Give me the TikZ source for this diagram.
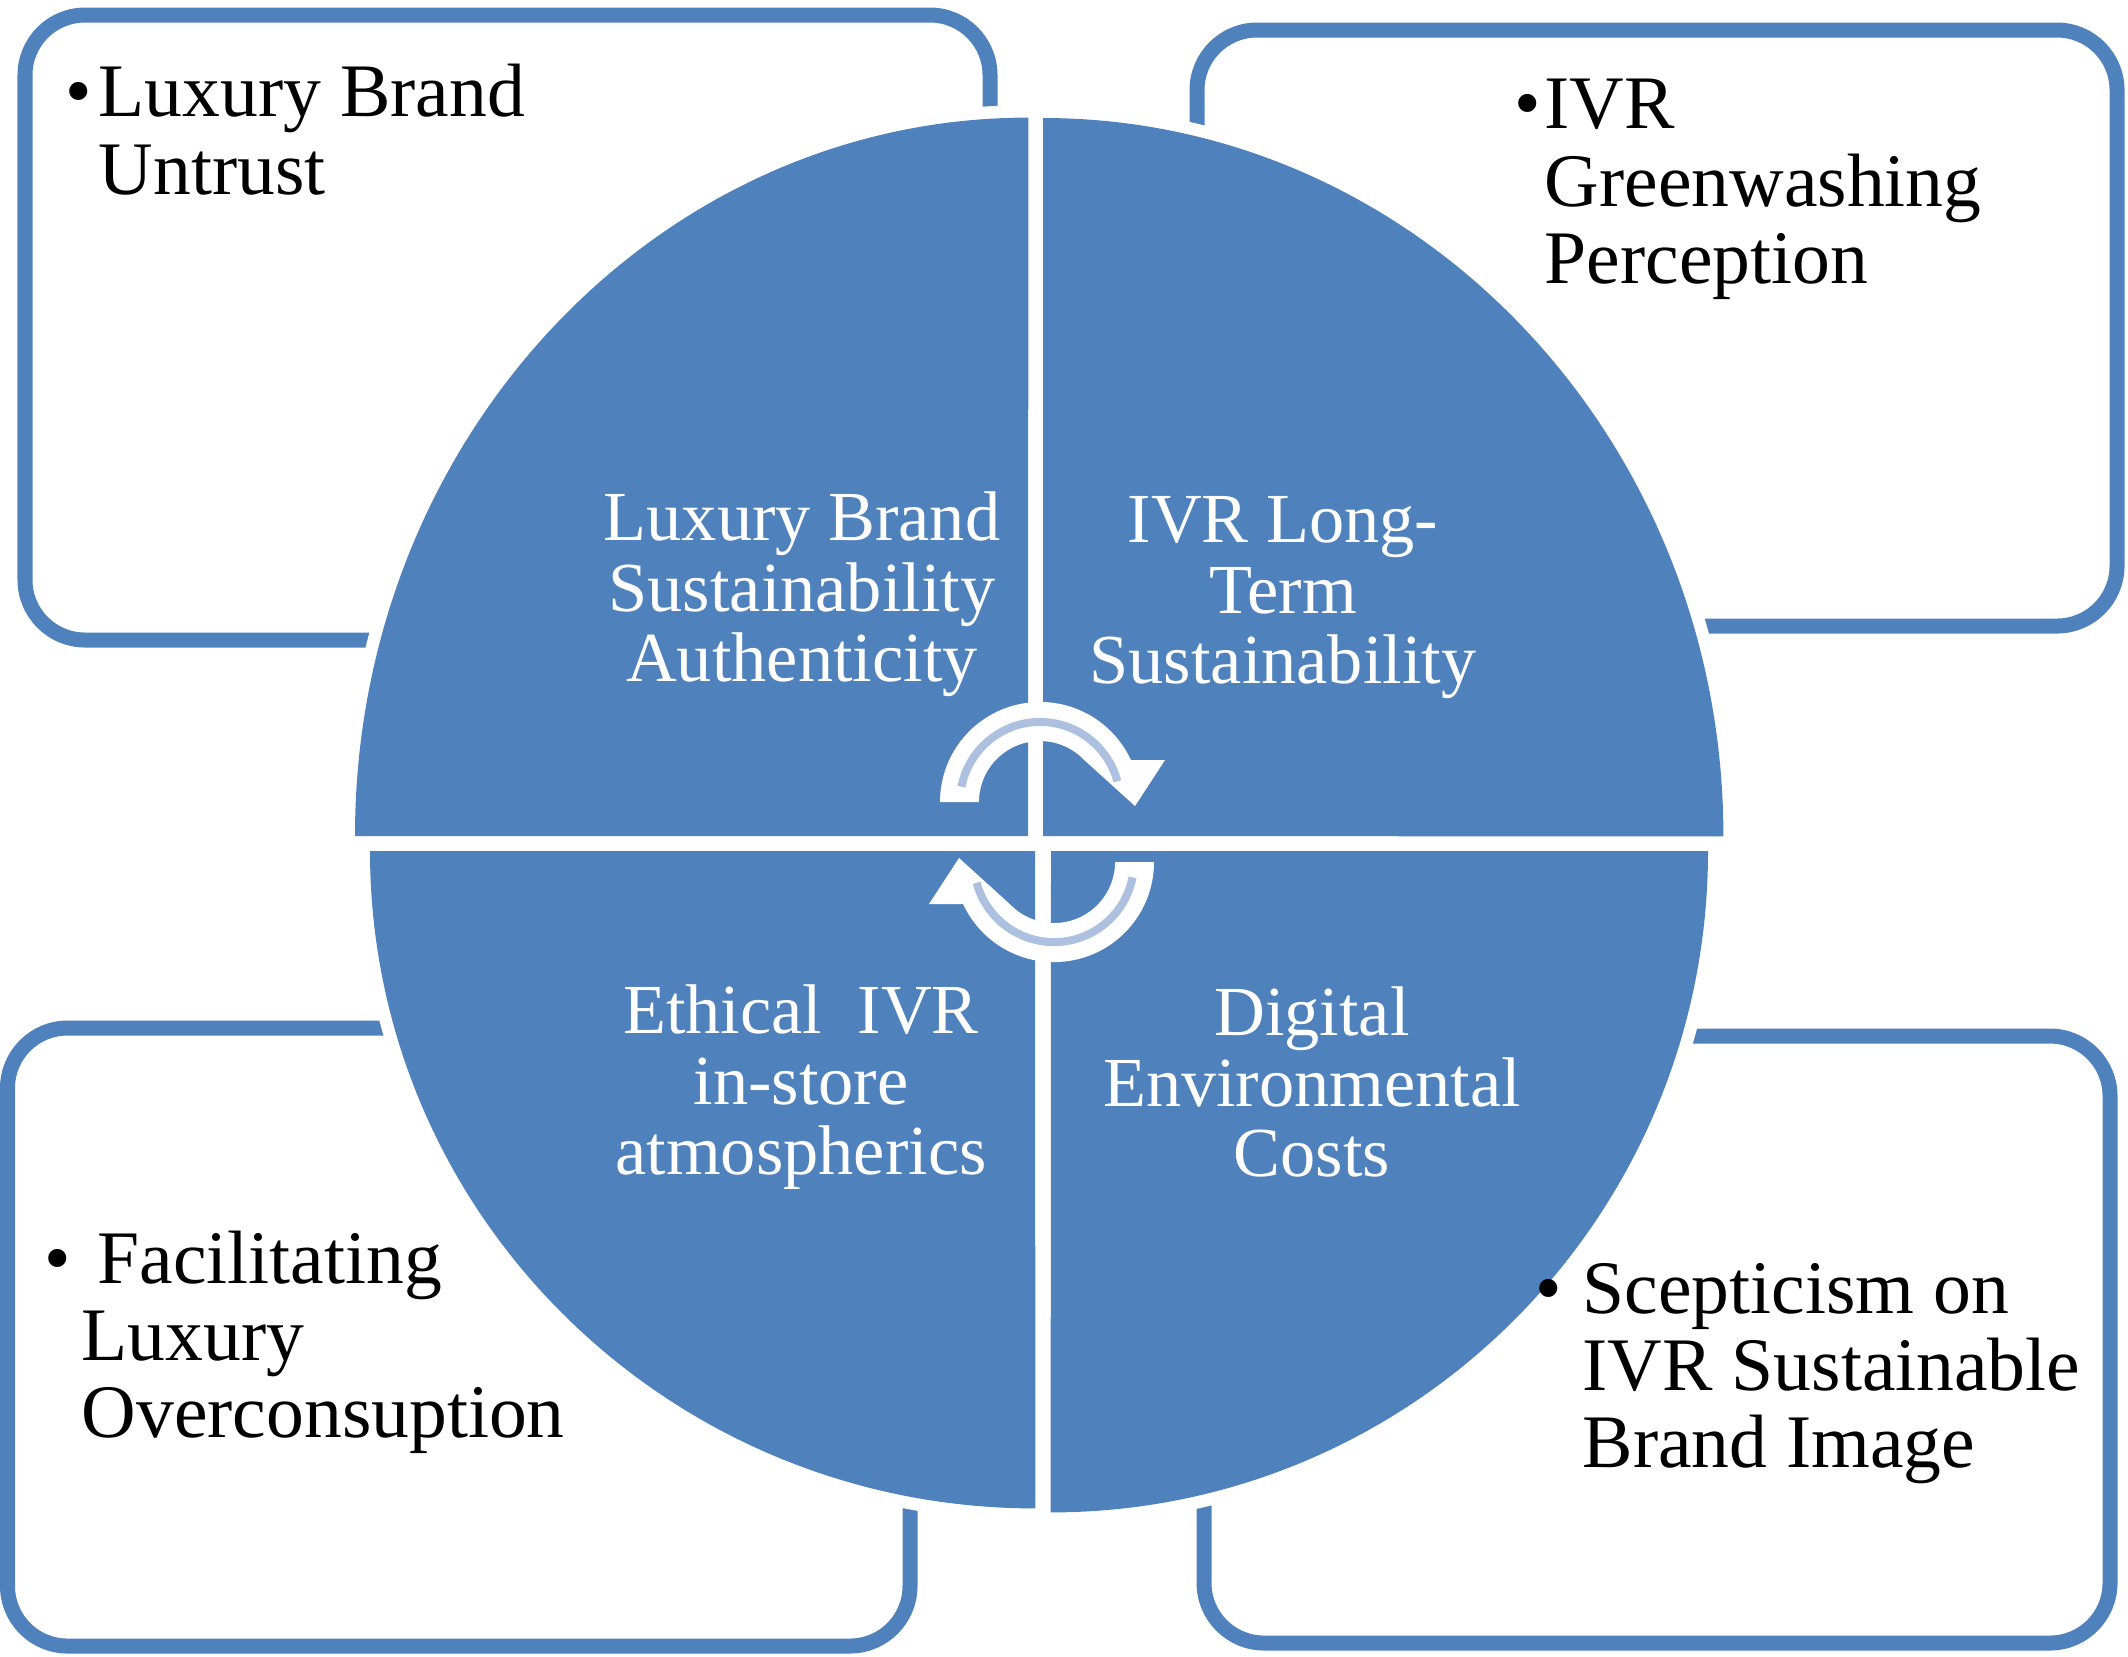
\documentclass[tikz,border=0pt]{standalone}
\usepackage{fontspec}
\setmainfont{Liberation Serif}
\definecolor{accent}{HTML}{4F81BD}
\definecolor{stripe}{HTML}{AEC0DF}
\begin{document}
\begin{tikzpicture}[x=0.01cm,y=0.01cm,
  frame/.style={draw=accent, line width=0.15cm, rounded corners=0.6cm},
  halo/.style={draw=white, line width=0.25cm, line join=round},
  quad/.style={fill=accent},
  blacktext/.style={inner sep=0pt, anchor=north west, align=left, text=black, font=\fontsize{21.5}{21.9}\selectfont},
  whitetext/.style={inner sep=0pt, anchor=north, align=center, text=white, font=\fontsize{20}{20.1}\selectfont},
  cyclearrow/.style={fill=white},
  highlight/.style={draw=stripe, line width=0.08cm}]
\useasboundingbox (0,0) rectangle (2128,-1656);
% outer boxes
\draw[frame] (25,-15) rectangle (990,-640);
\draw[frame] (1197,-30) rectangle (2117,-626);
\draw[frame] (7.5,-1028) rectangle (910,-1646);
\draw[frame] (1204,-1036) rectangle (2110,-1643);
% white halos of the quadrants
\path[halo] (1028,-836) -- ++(-673,0) arc[start angle=180,end angle=90,x radius=6.73cm,y radius=7.18cm] -- cycle;
\path[halo] (1043,-836) -- ++(0,718) arc[start angle=90,end angle=0,x radius=6.80cm,y radius=7.18cm] -- cycle;
\path[halo] (1035,-851) -- ++(-665,0) arc[start angle=180,end angle=270,x radius=6.65cm,y radius=6.57cm] -- cycle;
\path[halo] (1051,-851) -- ++(657,0) arc[start angle=0,end angle=-90,x radius=6.57cm,y radius=6.61cm] -- cycle;
% quadrants
\fill[quad] (1028,-836) -- ++(-673,0) arc[start angle=180,end angle=90,x radius=6.73cm,y radius=7.18cm] -- cycle;
\fill[quad] (1043,-836) -- ++(0,718) arc[start angle=90,end angle=0,x radius=6.80cm,y radius=7.18cm] -- cycle;
\fill[quad] (1035,-851) -- ++(-665,0) arc[start angle=180,end angle=270,x radius=6.65cm,y radius=6.57cm] -- cycle;
\fill[quad] (1051,-851) -- ++(657,0) arc[start angle=0,end angle=-90,x radius=6.57cm,y radius=6.61cm] -- cycle;
% cycle arrows
\fill[cyclearrow] (940,-802) arc[start angle=180,end angle=24.8,radius=1cm] -- (1165,-760) -- (1135,-806) -- (1084.25,-760) arc[start angle=43.5,end angle=180,radius=0.61cm] -- cycle;
\draw[highlight] (961.5,-786.7) arc[start angle=169,end angle=15,radius=0.8cm];
\begin{scope}[rotate around={180:(1047,-832)}]
\fill[cyclearrow] (940,-802) arc[start angle=180,end angle=24.8,radius=1cm] -- (1165,-760) -- (1135,-806) -- (1084.25,-760) arc[start angle=43.5,end angle=180,radius=0.61cm] -- cycle;
\draw[highlight] (961.5,-786.7) arc[start angle=169,end angle=15,radius=0.8cm];
\end{scope}
% texts in the quadrants
\node[whitetext] (authenticity) at (802,-487) {\rule{0pt}{15pt}Luxury Brand\\Sustainability\\Authenticity};
\node[whitetext] (longterm) at (1283,-489) {\rule{0pt}{15pt}IVR Long-\\Term\\Sustainability};
\node[whitetext] (ethical) at (801,-980) {\rule{0pt}{15pt}Ethical\ \ IVR\\in-store\\atmospherics};
\node[whitetext] (digital) at (1312,-982) {\rule{0pt}{15pt}Digital\\Environmental\\Costs};
% texts in the boxes
\node[blacktext] (untrust) at (98,-60) {\rule{0pt}{16pt}\llap{•\hspace{2pt}}Luxury Brand\\Untrust};
\node[blacktext] (greenwash) at (1544,-72) {\rule{0pt}{16pt}\llap{•\hspace{1pt}}IVR\\Greenwashing\\Perception};
\node[blacktext] (overcons) at (81,-1226) {\rule{0pt}{16pt}\llap{•\hspace{3pt}}\hspace*{4.5pt}Facilitating\\Luxury\\Overconsuption};
\node[blacktext] (scepticism) at (1582,-1256) {\rule{0pt}{16pt}\llap{•\hspace{6pt}}Scepticism on\\IVR Sustainable\\Brand Image};
\end{tikzpicture}
\end{document}
